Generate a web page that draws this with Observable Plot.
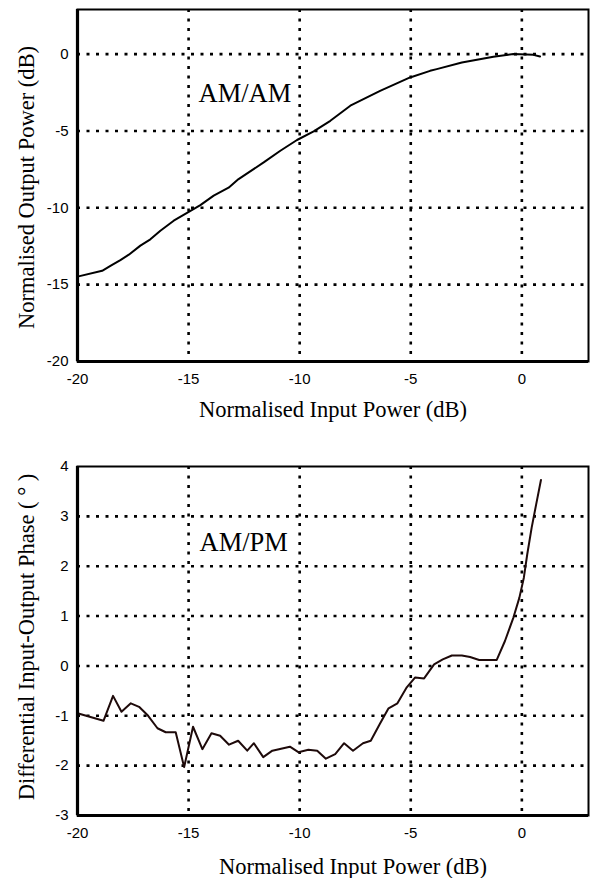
<!DOCTYPE html>
<html><head><meta charset="utf-8">
<script src="https://cdn.jsdelivr.net/npm/d3@7"></script>
<script src="https://cdn.jsdelivr.net/npm/@observablehq/plot@0.6"></script>
<style>
body{margin:0;background:#fff;}
#c{width:595px;}
#c svg{display:block;}
</style></head><body><div id="c"></div>
<script>
// ---- data ----
const xTicks = [-20, -15, -10, -5, 0];
const xDomain = [-20, 3];
const xTitle = "Normalised Input Power (dB)";

const amamTicks = [-20, -15, -10, -5, 0];
const amamDomain = [-20, 2.9];
const amamTitle = "Normalised Output Power (dB)";
const amamLabel = "AM/AM";
const amamInput = [-20, -18.89, -18.5, -18.07, -17.69, -17.17, -16.72, -16.27, -15.67, -15.05, -14.47, -13.87, -13.2, -12.75, -11.62, -10.87, -10.12, -9.37, -8.62, -7.72, -6.38, -5.03, -4.13, -3.83, -2.7, -1.28, -0.38, 0.52, 0.82];
const amamOutput = [-14.48, -14.1, -13.77, -13.4, -13.05, -12.46, -12.05, -11.49, -10.84, -10.32, -9.83, -9.21, -8.69, -8.13, -7.05, -6.29, -5.59, -5.03, -4.34, -3.36, -2.39, -1.52, -1.09, -0.98, -0.55, -0.18, 0, -0.05, -0.16];

const ampmTicks = [-3, -2, -1, 0, 1, 2, 3, 4];
const ampmDomain = [-3, 4];
const ampmTitle = "Differential Input-Output Phase ( ° )";
const ampmLabel = "AM/PM";
const ampmInput = [-20, -18.83, -18.4, -18.02, -17.6, -17.23, -16.82, -16.4, -16.03, -15.58, -15.2, -14.8, -14.38, -13.97, -13.58, -13.18, -12.77, -12.36, -12.06, -11.64, -11.23, -10.44, -10.06, -9.61, -9.21, -8.82, -8.4, -8.0, -7.6, -7.15, -6.8, -6.4, -6.0, -5.6, -5.18, -4.8, -4.4, -3.95, -3.56, -3.15, -2.7, -2.33, -1.92, -1.55, -1.13, -0.76, -0.38, -0.11, 0.09, 0.24, 0.44, 0.64, 0.86];
const ampmPhase = [-0.95, -1.1, -0.6, -0.92, -0.75, -0.82, -1.0, -1.25, -1.33, -1.33, -2.03, -1.22, -1.67, -1.35, -1.4, -1.58, -1.5, -1.7, -1.55, -1.83, -1.7, -1.62, -1.73, -1.68, -1.7, -1.86, -1.77, -1.55, -1.7, -1.55, -1.5, -1.17, -0.85, -0.75, -0.43, -0.23, -0.25, 0.03, 0.13, 0.21, 0.21, 0.18, 0.12, 0.12, 0.12, 0.5, 0.97, 1.37, 1.77, 2.23, 2.77, 3.23, 3.73];

// ---- drawing ----
const SANS = "'Liberation Sans', Arial, sans-serif";
const SERIF = "'Liberation Serif', 'Times New Roman', serif";

function chart(o) {
  const data = o.xs.map((x, i) => ({x, y: o.ys[i]}));
  const gx = xTicks.filter(v => v > xDomain[0] && v < xDomain[1]);
  const gy = o.yTicks.filter(v => v > o.yDomain[0] && v < o.yDomain[1]);
  const dots = {stroke: "#000", strokeWidth: 2.6, strokeDasharray: "3,6.5"};
  return Plot.plot({
    width: 595, height: o.height,
    marginLeft: 77, marginRight: 7, marginTop: o.marginTop, marginBottom: o.marginBottom,
    style: {fontFamily: SANS, fontSize: "15px", color: "#000", background: "#fff", overflow: "visible"},
    x: {domain: xDomain, ticks: xTicks, tickSize: 0, tickPadding: 12, label: null, tickFormat: d => String(d)},
    y: {domain: o.yDomain, ticks: o.yTicks, tickSize: 0, tickPadding: 9, label: null, tickFormat: d => String(d)},
    marks: [
      Plot.ruleX(gx, dots),
      Plot.ruleY(gy, dots),
      Plot.line(data, {x: "x", y: "y", stroke: o.lineColor, strokeWidth: 2}),
      Plot.frame({stroke: "#000", strokeWidth: 2}),
      Plot.ruleX([xDomain[0]], {stroke: "#000", strokeWidth: 3.2}),
      Plot.ruleY([o.yDomain[0]], {stroke: "#000", strokeWidth: 3.2}),
      Plot.text([o.label], {text: d => d, frameAnchor: "top-left", dx: o.labelDx, dy: o.labelDy,
        textAnchor: "start", lineAnchor: "bottom", fontFamily: SERIF, fontSize: 26.5, fill: "#000"}),
      Plot.text([xTitle], {text: d => d, frameAnchor: "bottom", dx: o.xTitleDx, dy: o.xTitleDy,
        textAnchor: "middle", lineAnchor: "bottom", fontFamily: SERIF, fontSize: 22.5, fill: "#000"}),
      Plot.text([o.yTitle], {text: d => d, frameAnchor: "left", dx: -44, dy: o.yTitleDy, rotate: -90,
        textAnchor: "middle", lineAnchor: "bottom", fontFamily: SERIF, fontSize: 22.5, fill: "#000"})
    ]
  });
}

const c = document.getElementById("c");
c.appendChild(chart({
  height: 440, marginTop: 9, marginBottom: 79,
  yDomain: amamDomain, yTicks: amamTicks, xs: amamInput, ys: amamOutput,
  label: amamLabel, yTitle: amamTitle, lineColor: "#000",
  labelDx: 121, labelDy: 92, xTitleDx: 0, xTitleDy: 55, yTitleDy: 2
}));
c.appendChild(chart({
  height: 438, marginTop: 26, marginBottom: 63,
  yDomain: ampmDomain, yTicks: ampmTicks, xs: ampmInput, ys: ampmPhase,
  label: ampmLabel, yTitle: ampmTitle, lineColor: "#1e0a0a",
  labelDx: 122, labelDy: 84, xTitleDx: 20, xTitleDy: 58, yTitleDy: -4
}));
</script>
</body></html>
